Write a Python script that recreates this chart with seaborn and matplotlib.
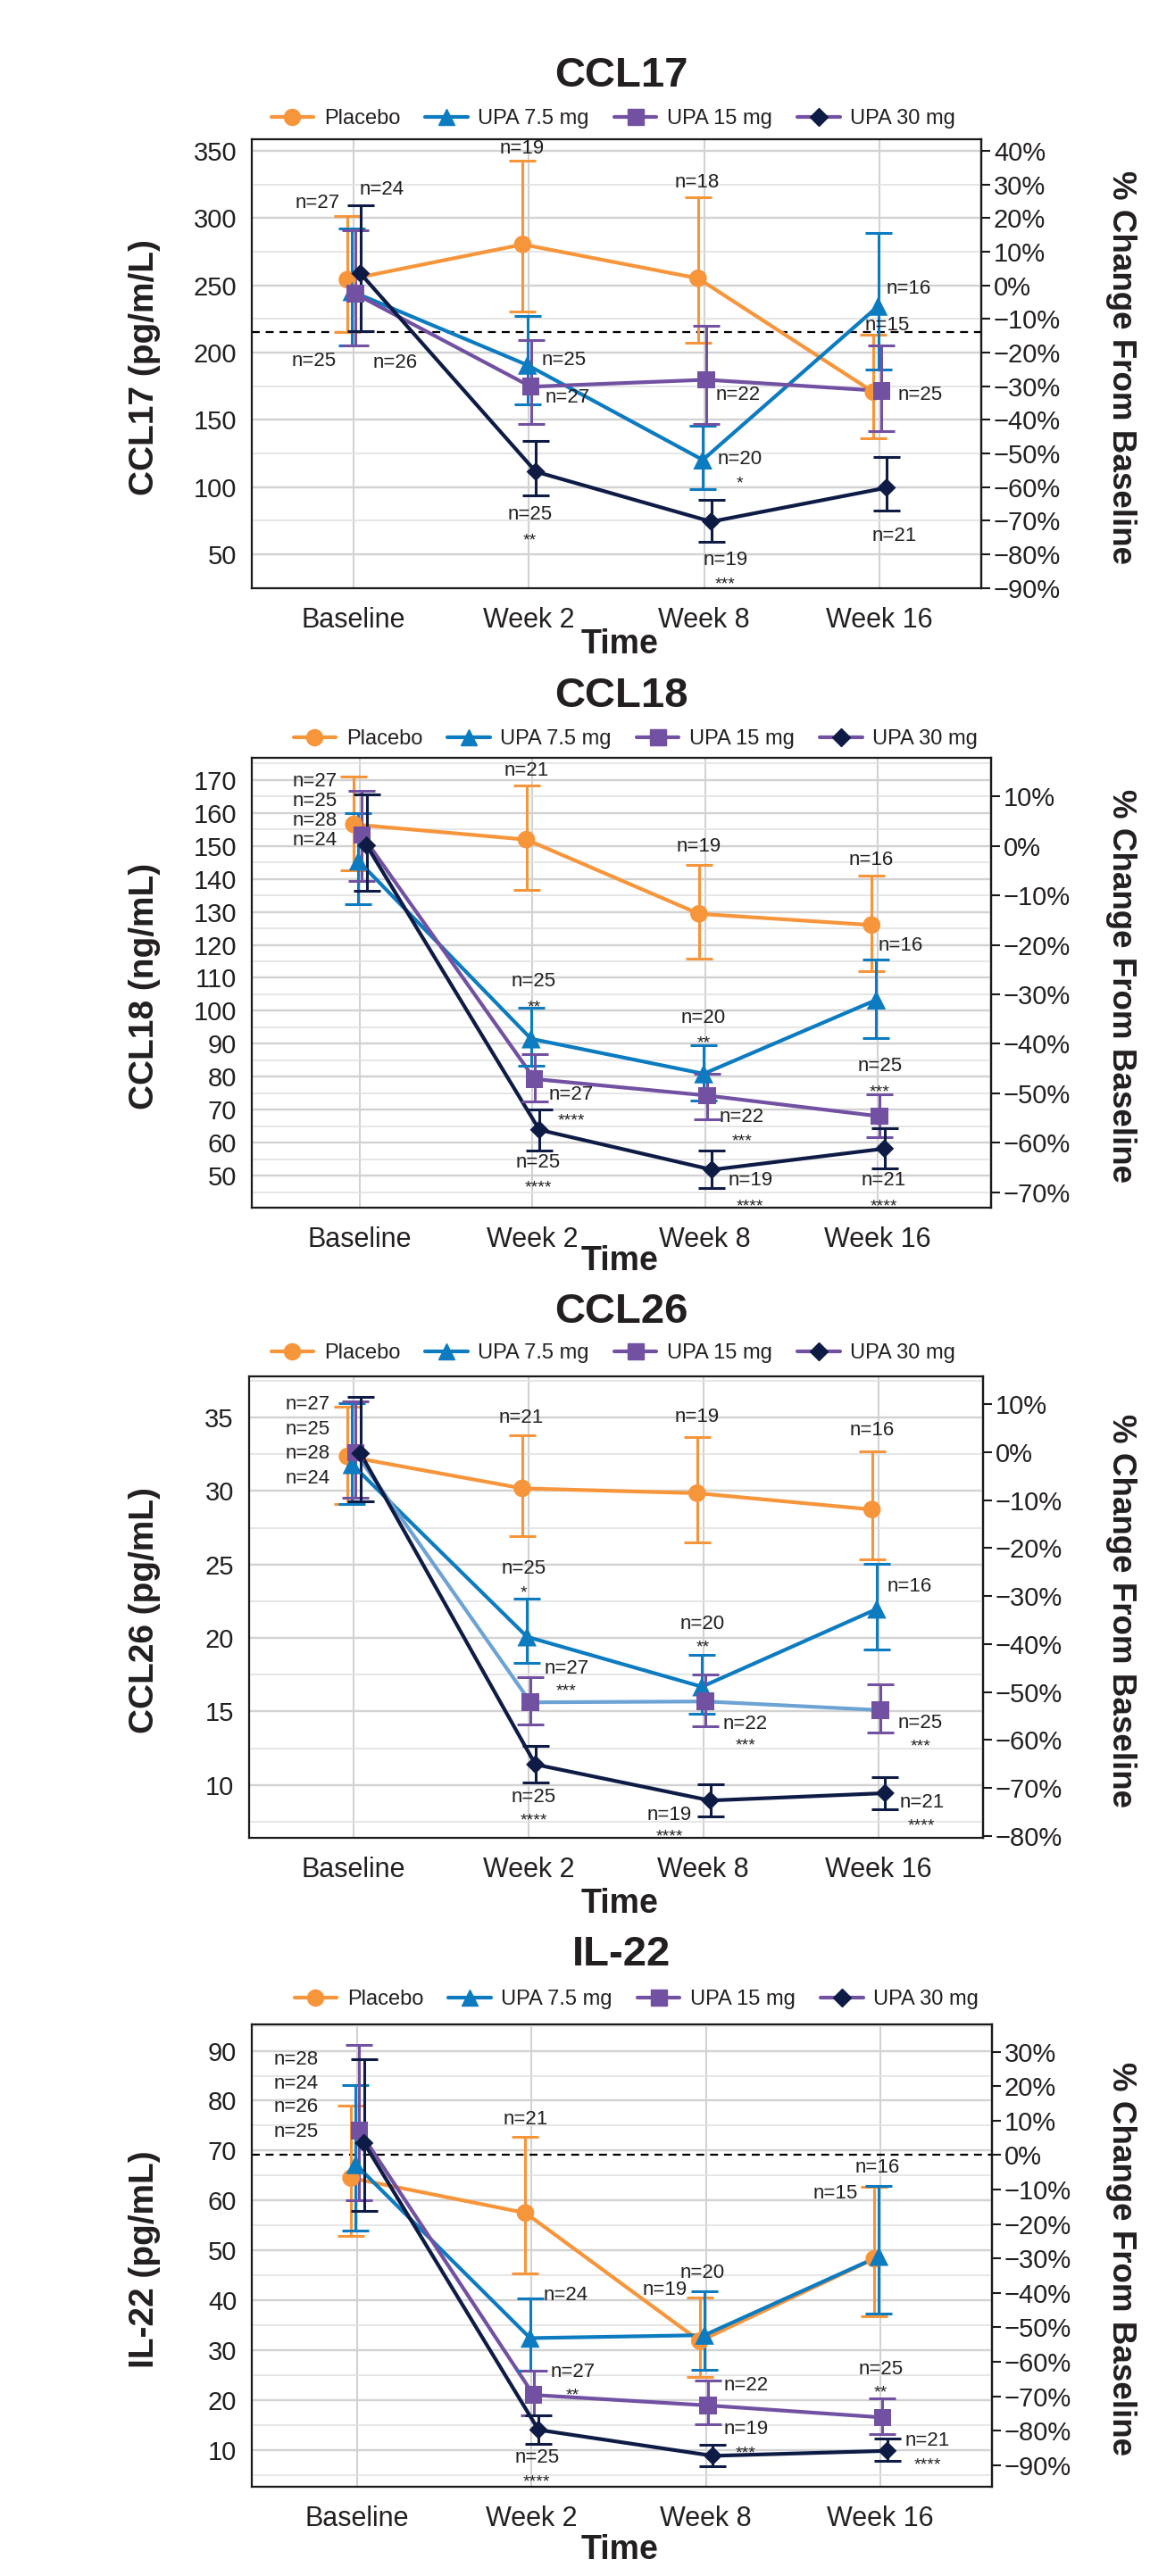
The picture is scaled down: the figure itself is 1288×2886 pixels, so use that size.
import numpy as np
import pandas as pd
import matplotlib
matplotlib.use("Agg")
import matplotlib.pyplot as plt
from matplotlib.lines import Line2D
from matplotlib.ticker import MultipleLocator
import seaborn as sns

# ----------------------------------------------------------------- data
TIMES = ["Baseline", "Week 2", "Week 8", "Week 16"]
GROUPS = ["Placebo", "UPA 7.5 mg", "UPA 15 mg", "UPA 30 mg"]

# CCL17 (pg/m/L)
ccl17_mean = {"Placebo": [254.2, 280.4, 255.2, 170.6], "UPA 7.5 mg": [245.4, 190.7, 120.2, 234.5],
              "UPA 15 mg": [243.6, 174.6, 179.8, 171.5], "UPA 30 mg": [258.8, 111.4, 74.3, 99.5]}
ccl17_lo = {"Placebo": [215.0, 230.2, 207.1, 136.3], "UPA 7.5 mg": [205.0, 161.5, 98.6, 187.6],
            "UPA 15 mg": [205.6, 147.2, 147.2, 141.8], "UPA 30 mg": [216.2, 94.1, 59.1, 82.8]}
ccl17_hi = {"Placebo": [301.7, 342.7, 315.3, 213.5], "UPA 7.5 mg": [292.5, 227.2, 145.4, 288.9],
            "UPA 15 mg": [291.0, 209.3, 219.6, 205.6], "UPA 30 mg": [309.3, 134.5, 90.7, 122.3]}
ccl17_n = {"Placebo": [27, 19, 18, 15], "UPA 7.5 mg": [25, 25, 20, 16],
           "UPA 15 mg": [26, 27, 22, 25], "UPA 30 mg": [24, 25, 19, 21]}
ccl17_sig = {"Placebo": ["", "", "", ""], "UPA 7.5 mg": ["", "", "*", ""],
             "UPA 15 mg": ["", "", "", ""], "UPA 30 mg": ["", "**", "***", ""]}

# CCL18 (ng/mL)
ccl18_mean = {"Placebo": [156.5, 151.9, 129.4, 126.0], "UPA 7.5 mg": [145.4, 91.5, 80.9, 103.3],
              "UPA 15 mg": [153.3, 79.3, 74.3, 68.0], "UPA 30 mg": [150.1, 63.9, 51.8, 58.2]}
ccl18_lo = {"Placebo": [142.5, 136.6, 115.9, 111.9], "UPA 7.5 mg": [132.2, 83.2, 72.9, 91.6],
            "UPA 15 mg": [139.4, 72.4, 67.0, 61.6], "UPA 30 mg": [136.5, 57.7, 46.3, 52.1]}
ccl18_hi = {"Placebo": [171.0, 168.3, 144.3, 141.1], "UPA 7.5 mg": [159.8, 101.0, 89.5, 115.5],
            "UPA 15 mg": [166.6, 86.9, 81.0, 74.7], "UPA 30 mg": [165.5, 70.0, 57.6, 64.3]}
ccl18_n = {"Placebo": [27, 21, 19, 16], "UPA 7.5 mg": [25, 25, 20, 16],
           "UPA 15 mg": [28, 27, 22, 25], "UPA 30 mg": [24, 25, 19, 21]}
ccl18_sig = {"Placebo": ["", "", "", ""], "UPA 7.5 mg": ["", "**", "**", ""],
             "UPA 15 mg": ["", "****", "***", "***"], "UPA 30 mg": ["", "****", "****", "****"]}

# CCL26 (pg/mL)
ccl26_mean = {"Placebo": [32.35, 30.18, 29.85, 28.74], "UPA 7.5 mg": [31.8, 20.08, 16.68, 21.97],
              "UPA 15 mg": [32.6, 15.62, 15.68, 15.09], "UPA 30 mg": [32.55, 11.39, 8.94, 9.44]}
ccl26_lo = {"Placebo": [29.13, 26.95, 26.5, 25.34], "UPA 7.5 mg": [29.13, 18.3, 14.87, 19.24],
            "UPA 15 mg": [29.57, 14.12, 14.0, 13.54], "UPA 30 mg": [29.29, 10.17, 7.83, 8.33]}
ccl26_hi = {"Placebo": [35.75, 33.8, 33.64, 32.72], "UPA 7.5 mg": [35.97, 22.67, 18.83, 25.03],
            "UPA 15 mg": [36.1, 17.32, 17.49, 16.82], "UPA 30 mg": [36.4, 12.64, 10.05, 10.53]}
ccl26_n = {"Placebo": [27, 21, 19, 16], "UPA 7.5 mg": [25, 25, 20, 16],
           "UPA 15 mg": [28, 27, 22, 25], "UPA 30 mg": [24, 25, 19, 21]}
ccl26_sig = {"Placebo": ["", "", "", ""], "UPA 7.5 mg": ["", "*", "**", ""],
             "UPA 15 mg": ["", "***", "***", "***"], "UPA 30 mg": ["", "****", "****", "****"]}

# IL-22 (pg/mL)
il22_mean = {"Placebo": [64.5, 57.5, 31.8, 48.3], "UPA 7.5 mg": [67.2, 32.4, 33.0, 48.8],
             "UPA 15 mg": [74.0, 21.0, 18.9, 16.5], "UPA 30 mg": [71.5, 14.0, 8.8, 9.8]}
il22_lo = {"Placebo": [52.9, 45.4, 24.7, 36.7], "UPA 7.5 mg": [54.0, 25.8, 26.1, 37.3],
           "UPA 15 mg": [60.1, 17.0, 15.2, 13.1], "UPA 30 mg": [57.9, 11.2, 6.8, 7.8]}
il22_hi = {"Placebo": [79.1, 72.8, 40.6, 62.8], "UPA 7.5 mg": [83.2, 40.3, 41.8, 62.9],
           "UPA 15 mg": [91.1, 25.8, 23.9, 20.4], "UPA 30 mg": [88.4, 17.0, 11.1, 12.3]}
il22_n = {"Placebo": [28, 21, 19, 15], "UPA 7.5 mg": [24, 24, 20, 16],
          "UPA 15 mg": [26, 27, 22, 25], "UPA 30 mg": [25, 25, 19, 21]}
il22_sig = {"Placebo": ["", "", "", ""], "UPA 7.5 mg": ["", "", "", ""],
            "UPA 15 mg": ["", "**", "", "**"], "UPA 30 mg": ["", "****", "***", "****"]}

# value that corresponds to 0 % change on the right-hand axis
pct_base = {"CCL17": 250.0, "CCL18": 150.0, "CCL26": 32.65, "IL-22": 69.1}
# dashed reference lines (left-axis units)
ref_lines = {"CCL17": 215.0, "IL-22": 69.1}

PANELS = ["CCL17", "CCL18", "CCL26", "IL-22"]
DATA = {
    "CCL17": (ccl17_mean, ccl17_lo, ccl17_hi, ccl17_n, ccl17_sig),
    "CCL18": (ccl18_mean, ccl18_lo, ccl18_hi, ccl18_n, ccl18_sig),
    "CCL26": (ccl26_mean, ccl26_lo, ccl26_hi, ccl26_n, ccl26_sig),
    "IL-22": (il22_mean, il22_lo, il22_hi, il22_n, il22_sig),
}
YLABELS = {"CCL17": "CCL17 (pg/m/L)", "CCL18": "CCL18 (ng/mL)",
           "CCL26": "CCL26 (pg/mL)", "IL-22": "IL-22 (pg/mL)"}

# ----------------------------------------------------------------- style / layout
COLORS = {"Placebo": "#F7953B", "UPA 7.5 mg": "#0C7BC0",
          "UPA 15 mg": "#7251A2", "UPA 30 mg": "#0D1B45"}
LIGHT_BLUE = "#6DA3D4"
MARKERS = {"Placebo": "o", "UPA 7.5 mg": "^", "UPA 15 mg": "s", "UPA 30 mg": "D"}
MSIZES = {"Placebo": 200, "UPA 7.5 mg": 240, "UPA 15 mg": 200, "UPA 30 mg": 115}
DODGE = {"Placebo": -0.035, "UPA 7.5 mg": -0.008, "UPA 15 mg": 0.012, "UPA 30 mg": 0.04}

W, H = 1288, 2886
LAYOUT = {  # pixel boxes: left, right, top, bottom; xlim; ylim; step; pct range; text rows
    "CCL17": dict(box=(282, 1099, 156, 659), xlim=(-0.58, 3.58), ylim=(24.8, 358.6), step=50,
                  pct=(-90, 40), title_y=85, leg=(687, 133), time_y=722),
    "CCL18": dict(box=(282, 1110, 849, 1353), xlim=(-0.626, 3.657), ylim=(40.3, 176.7), step=10,
                  pct=(-70, 10), title_y=780, leg=(712, 828), time_y=1413),
    "CCL26": dict(box=(278.5, 1101, 1542, 2059), xlim=(-0.6, 3.6), ylim=(6.4, 37.8), step=5,
                  pct=(-80, 10), title_y=1470, leg=(687, 1516), time_y=2133),
    "IL-22": dict(box=(282, 1111, 2268, 2786), xlim=(-0.604, 3.64), ylim=(2.6, 95.3), step=10,
                  pct=(-90, 30), title_y=2190, leg=(713, 2240), time_y=2857),
}

# label placement: (group, time index, anchor group, dx px, dy px (down), star dy px or None)
LABELS = {
    "CCL17": [
        ("Placebo", 0, "Placebo", -33, -86, None), ("Placebo", 1, "Placebo", -1, -107, None),
        ("Placebo", 2, "Placebo", -1, -107, None), ("Placebo", 3, "Placebo", 15, -75, None),
        ("UPA 7.5 mg", 0, "UPA 7.5 mg", -43, 78, None), ("UPA 7.5 mg", 1, "UPA 7.5 mg", 41, -6, None),
        ("UPA 7.5 mg", 2, "UPA 7.5 mg", 41, -1, 22), ("UPA 7.5 mg", 3, "UPA 7.5 mg", 34, -20, None),
        ("UPA 15 mg", 0, "UPA 15 mg", 44, 77, None), ("UPA 15 mg", 1, "UPA 15 mg", 41, 12, None),
        ("UPA 15 mg", 2, "UPA 15 mg", 36, 17, None), ("UPA 15 mg", 3, "UPA 15 mg", 43, 5, None),
        ("UPA 30 mg", 0, "UPA 30 mg", 24, -94, None), ("UPA 30 mg", 1, "UPA 30 mg", -7, 48, 72),
        ("UPA 30 mg", 2, "UPA 30 mg", 16, 43, 66), ("UPA 30 mg", 3, "UPA 30 mg", 9, 54, None),
    ],
    "CCL18": [
        ("Placebo", 0, "Placebo", -44, -48, None), ("UPA 7.5 mg", 0, "Placebo", -44, -26, None),
        ("UPA 15 mg", 0, "Placebo", -44, -4, None), ("UPA 30 mg", 0, "Placebo", -44, 18, None),
        ("Placebo", 1, "Placebo", 0, -77, None), ("Placebo", 2, "Placebo", 0, -75, None),
        ("Placebo", 3, "Placebo", -1, -73, None),
        ("UPA 7.5 mg", 1, "UPA 7.5 mg", 3, -64, -40), ("UPA 7.5 mg", 2, "UPA 7.5 mg", 0, -62, -39),
        ("UPA 7.5 mg", 3, "UPA 7.5 mg", 27, -61, None),
        ("UPA 15 mg", 1, "UPA 15 mg", 41, 18, 42), ("UPA 15 mg", 2, "UPA 15 mg", 39, 24, 47),
        ("UPA 15 mg", 3, "UPA 15 mg", 0, -56, -32),
        ("UPA 30 mg", 1, "UPA 30 mg", -1, 37, 60), ("UPA 30 mg", 2, "UPA 30 mg", 43, 12, 36),
        ("UPA 30 mg", 3, "UPA 30 mg", -1, 36, 60),
    ],
    "CCL26": [
        ("Placebo", 0, "Placebo", -45, -58, None), ("UPA 7.5 mg", 0, "Placebo", -45, -30, None),
        ("UPA 15 mg", 0, "Placebo", -45, -3, None), ("UPA 30 mg", 0, "Placebo", -45, 25, None),
        ("Placebo", 1, "Placebo", -1, -79, None), ("Placebo", 2, "Placebo", 0, -85, None),
        ("Placebo", 3, "Placebo", 0, -89, None),
        ("UPA 7.5 mg", 1, "UPA 7.5 mg", -4, -76, -54), ("UPA 7.5 mg", 2, "UPA 7.5 mg", 1, -70, -49),
        ("UPA 7.5 mg", 3, "UPA 7.5 mg", 37, -25, None),
        ("UPA 15 mg", 1, "UPA 15 mg", 40, -38, -17), ("UPA 15 mg", 2, "UPA 15 mg", 45, 25, 45),
        ("UPA 15 mg", 3, "UPA 15 mg", 45, 15, 36),
        ("UPA 30 mg", 1, "UPA 30 mg", -2, 37, 58), ("UPA 30 mg", 2, "UPA 30 mg", -46, 16, 36),
        ("UPA 30 mg", 3, "UPA 30 mg", 41, 11, 32),
    ],
    "IL-22": [
        ("Placebo", 0, "Placebo", -62, -133, None), ("UPA 7.5 mg", 0, "Placebo", -62, -106, None),
        ("UPA 15 mg", 0, "Placebo", -62, -80, None), ("UPA 30 mg", 0, "Placebo", -62, -52, None),
        ("Placebo", 1, "Placebo", 0, -105, None), ("Placebo", 2, "Placebo", -39, -57, None),
        ("Placebo", 3, "Placebo", -43, -73, None),
        ("UPA 7.5 mg", 1, "UPA 7.5 mg", 40, -48, None), ("UPA 7.5 mg", 2, "UPA 7.5 mg", -2, -70, None),
        ("UPA 7.5 mg", 3, "UPA 7.5 mg", -2, -99, None),
        ("UPA 15 mg", 1, "UPA 15 mg", 44, -26, -4), ("UPA 15 mg", 2, "UPA 15 mg", 43, -22, None),
        ("UPA 15 mg", 3, "UPA 15 mg", -2, -54, -32),
        ("UPA 30 mg", 1, "UPA 30 mg", -2, 31, 54), ("UPA 30 mg", 2, "UPA 30 mg", 37, -30, -7),
        ("UPA 30 mg", 3, "UPA 30 mg", 45, -11, 11),
    ],
}

sns.set_style("white")
plt.rcParams["font.family"] = ["Liberation Sans", "DejaVu Sans"]
plt.rcParams["axes.unicode_minus"] = True

TXT = "#231F20"
fig = plt.figure(figsize=(W / 100, H / 100), dpi=100)
fig.patch.set_facecolor("white")


def pct_label(v):
    return f"{int(v)}%".replace("-", "\u2212")


for name in PANELS:
    mean, lo, hi, ns, sig = DATA[name]
    L = LAYOUT[name]
    l, r, t, b = L["box"]
    ax = fig.add_axes([l / W, 1 - b / H, (r - l) / W, (b - t) / H])

    rows = []
    for g in GROUPS:
        for i, tm in enumerate(TIMES):
            rows.append(dict(group=g, time=tm, x=i + DODGE[g], mean=mean[g][i],
                             lo=lo[g][i], hi=hi[g][i]))
    df = pd.DataFrame(rows)

    line_pal = dict(COLORS)
    if name == "CCL26":
        line_pal["UPA 15 mg"] = LIGHT_BLUE

    # lines
    sns.lineplot(data=df, x="x", y="mean", hue="group", hue_order=GROUPS, palette=line_pal,
                 estimator=None, sort=True, linewidth=3.0, legend=False, ax=ax, zorder=3)
    # error bars
    for g in GROUPS:
        sub = df[df["group"] == g]
        ax.errorbar(sub["x"], sub["mean"], yerr=[sub["mean"] - sub["lo"], sub["hi"] - sub["mean"]],
                    fmt="none", ecolor=COLORS[g], elinewidth=2.2, capsize=11, capthick=2.2, zorder=4)
    # markers
    sns.scatterplot(data=df, x="x", y="mean", hue="group", style="group", size="group",
                    hue_order=GROUPS, style_order=GROUPS, size_order=GROUPS,
                    palette=COLORS, markers=MARKERS, sizes=MSIZES, linewidth=0,
                    legend=False, ax=ax, zorder=5)

    if name in ref_lines:
        ax.axhline(ref_lines[name], color="black", lw=1.6, ls=(0, (4, 3)), zorder=2.5)

    # axes cosmetics
    ax.set_xlim(*L["xlim"])
    ax.set_ylim(*L["ylim"])
    ax.set_xticks(range(len(TIMES)))
    ax.set_xticklabels(TIMES)
    ax.yaxis.set_major_locator(MultipleLocator(L["step"]))
    ax.yaxis.set_minor_locator(MultipleLocator(L["step"] / 2))
    ax.grid(which="major", axis="y", color="#D2D2D2", lw=1.7)
    ax.grid(which="minor", axis="y", color="#E2E2E2", lw=1.2)
    ax.grid(which="major", axis="x", color="#D2D2D2", lw=1.5)
    ax.set_axisbelow(True)
    ax.set_xlabel("")
    ax.set_ylabel("")
    for s in ax.spines.values():
        s.set_visible(True)
        s.set_color("#1A1A1A")
        s.set_linewidth(1.6)
    ax.tick_params(axis="both", which="major", direction="out", length=7, width=1.5,
                   color="#1A1A1A", labelsize=21, labelcolor=TXT, pad=5)
    ax.tick_params(axis="y", which="minor", length=0)
    ax.tick_params(axis="x", pad=8, labelsize=22)

    base = pct_base[name]
    sec = ax.secondary_yaxis("right", functions=(lambda v, b0=base: (v / b0 - 1) * 100,
                                                  lambda q, b0=base: b0 * (1 + q / 100)))
    pticks = np.arange(L["pct"][0], L["pct"][1] + 1, 10)
    sec.set_yticks(pticks)
    sec.set_yticklabels([pct_label(v) for v in pticks])
    sec.tick_params(axis="y", direction="out", length=7, width=1.5, color="#1A1A1A",
                    labelsize=21, labelcolor=TXT, pad=3)
    sec.spines["right"].set_linewidth(1.6)

    # labels / titles
    cy = (t + b) / 2 + 4
    fig.text(696 / W, 1 - L["title_y"] / H, name, ha="center", va="center",
             fontsize=34, fontweight="bold", color=TXT)
    fig.text(694 / W, 1 - L["time_y"] / H, "Time", ha="center", va="center",
             fontsize=27, fontweight="bold", color=TXT)
    fig.text(162 / W, 1 - cy / H, YLABELS[name], rotation=90, ha="center", va="center",
             fontsize=28, fontweight="bold", color=TXT)
    fig.text(1255 / W, 1 - cy / H, "% Change From Baseline", rotation=270, ha="center",
             va="center", fontsize=26.5, fontweight="bold", color=TXT)

    # legend
    handles = []
    for g in GROUPS:
        lc = COLORS["UPA 15 mg"] if g == "UPA 30 mg" else COLORS[g]
        handles.append(Line2D([], [], color=lc, lw=3, marker=MARKERS[g],
                              markersize=13 if g != "UPA 30 mg" else 10,
                              markerfacecolor=COLORS[g], markeredgecolor=COLORS[g], label=g))
    fig.legend(handles=handles, loc="center", ncol=4, frameon=False, fontsize=17,
               bbox_to_anchor=(L["leg"][0] / W, 1 - L["leg"][1] / H),
               handlelength=2.0, handletextpad=0.5, columnspacing=1.2, labelcolor=TXT)

    # n / significance annotations
    for g, ti, anc, dx, dy, sdy in LABELS[name]:
        xa = ti + DODGE[anc]
        ya = mean[anc][ti]
        ax.annotate(f"n={ns[g][ti]}", xy=(xa, ya), xytext=(dx, -dy), textcoords="offset pixels",
                    ha="center", va="center", fontsize=16, color=TXT, annotation_clip=False,
                    zorder=6)
        if sdy is not None and sig[g][ti]:
            ax.annotate(sig[g][ti], xy=(xa, ya), xytext=(dx, -(sdy + 5)),
                        textcoords="offset pixels", ha="center", va="center", fontsize=14,
                        color=TXT, annotation_clip=False, zorder=6)

fig.savefig("out.png", dpi=100, facecolor="white")
